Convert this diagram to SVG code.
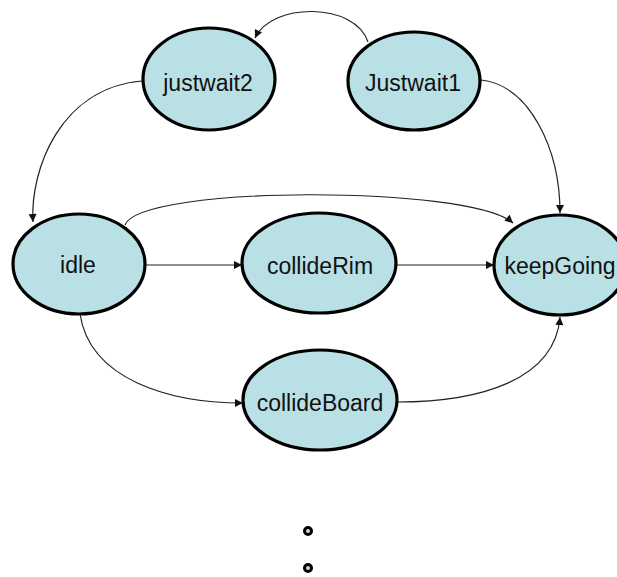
<svg xmlns="http://www.w3.org/2000/svg" width="617" height="577" viewBox="0 0 617 577">
<defs>
<style>
.node ellipse{fill:#b9e0e4;stroke:#000;stroke-width:3.2}
.node text{font-family:"Liberation Sans",Arial,sans-serif;font-size:23px;fill:#111;text-anchor:middle}
.edges path{fill:none;stroke:#222;stroke-width:1.2}
.dot{fill:#b9e0e4;stroke:#000;stroke-width:3}
</style>
<marker id="arr" viewBox="0 0 10 10" refX="10" refY="5" markerWidth="9" markerHeight="8" markerUnits="userSpaceOnUse" orient="auto">
<path d="M0,0 L10,5 L0,10 z" fill="#111"/>
</marker>
</defs>
<rect width="617" height="577" fill="#fff"/>
<g class="edges">
<path d="M368,42 C355,2 272,2 255,38" marker-end="url(#arr)"/>
<path d="M142,81 C60,88 30,170 33,222" marker-end="url(#arr)"/>
<path d="M125,225 C140,185 470,185 513,223" marker-end="url(#arr)"/>
<path d="M481,80 C530,85 560,150 560,213" marker-end="url(#arr)"/>
<path d="M146,265 L242,265" marker-end="url(#arr)"/>
<path d="M396,265 L494,265" marker-end="url(#arr)"/>
<path d="M80,314 C90,380 170,403 243,403" marker-end="url(#arr)"/>
<path d="M397,402 C480,402 555,380 560,317" marker-end="url(#arr)"/>
</g>
<g id="justwait2" class="node"><ellipse cx="209" cy="79" rx="66" ry="51"/><text x="208" y="91">justwait2</text></g>
<g id="Justwait1" class="node"><ellipse cx="414" cy="81" rx="66" ry="49"/><text x="413" y="91">Justwait1</text></g>
<g id="idle" class="node"><ellipse cx="79" cy="264" rx="66" ry="50"/><text x="78" y="273">idle</text></g>
<g id="collideRim" class="node"><ellipse cx="319" cy="263" rx="77" ry="50"/><text x="320" y="274">collideRim</text></g>
<g id="keepGoing" class="node"><ellipse cx="560" cy="265" rx="66" ry="50"/><text x="560" y="274">keepGoing</text></g>
<g id="collideBoard" class="node"><ellipse cx="320" cy="400" rx="77" ry="50"/><text x="320" y="411">collideBoard</text></g>
<circle class="dot" cx="308" cy="531" r="3.5"/>
<circle class="dot" cx="308" cy="568" r="3.5"/>
</svg>
